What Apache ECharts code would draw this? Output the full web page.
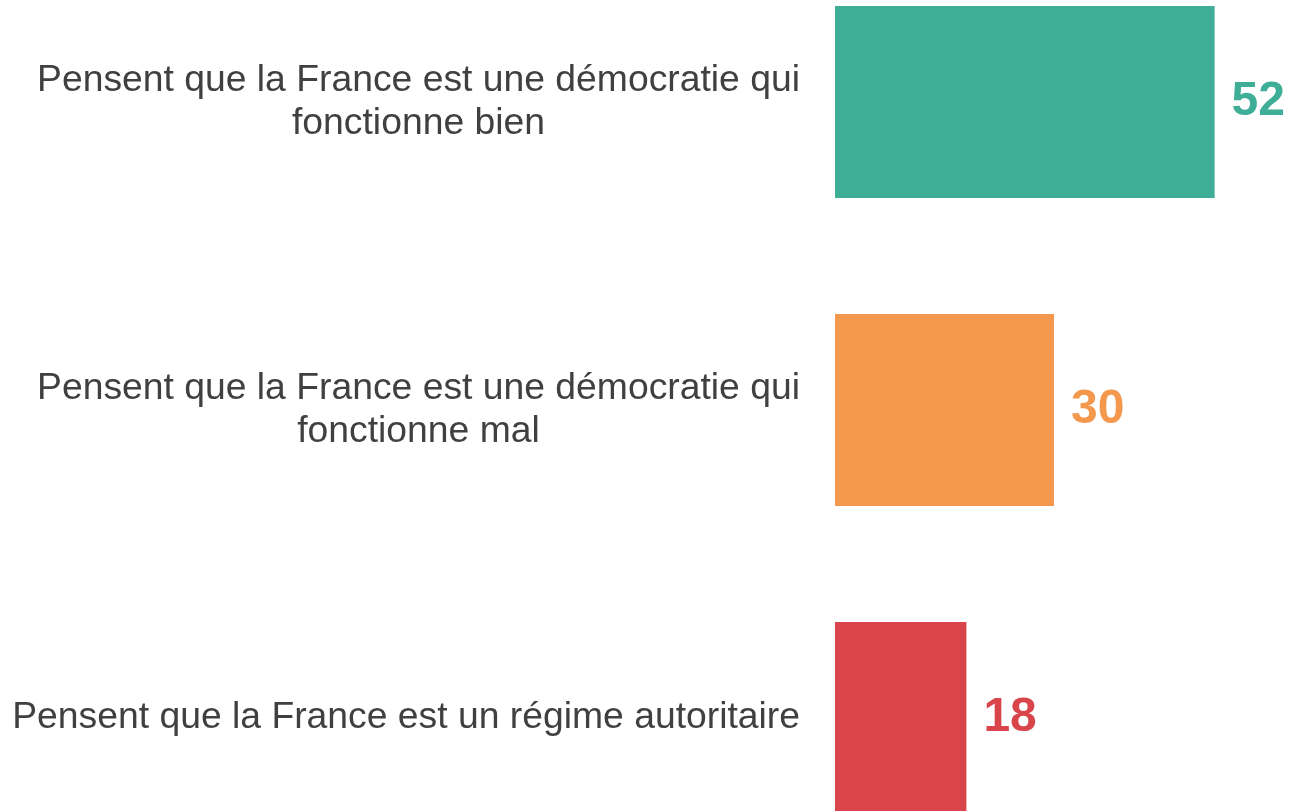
<!DOCTYPE html>
<html>
<head>
<meta charset="utf-8">
<script src="https://cdn.jsdelivr.net/npm/echarts@6/dist/echarts.min.js"></script>
<style>
  html, body { margin: 0; padding: 0; background: #fff; }
  #chart { width: 1294px; height: 811px; }
</style>
</head>
<body>
<div id="chart"></div>
<script>
// données
const categories = [
  'Pensent que la France est une démocratie qui\nfonctionne bien',
  'Pensent que la France est une démocratie qui\nfonctionne mal',
  'Pensent que la France est un régime autoritaire'
]
const values = [52, 30, 18]
const barColors = ['#3eae96', '#f4984d', '#d9454b']

const myChart = echarts.init(document.getElementById('chart'))

const options = {
  animation: false,
  grid: {
    left: 835,
    width: 438,
    top: -52,
    height: 924,
    outerBoundsMode: 'none'
  },
  xAxis: {
    type: 'value',
    min: 0,
    max: 60,
    show: false
  },
  yAxis: {
    type: 'category',
    data: categories,
    inverse: true,
    axisLine: { show: false },
    axisTick: { show: false },
    splitLine: { show: false },
    axisLabel: {
      margin: 35,
      align: 'right',
      formatter: (v) => v.split('\n').map(s => '{c|' + s + '}').join('\n'),
      rich: {
        c: {
          align: 'center',
          fontFamily: 'Liberation Sans, Arial, sans-serif',
          fontSize: 37.3,
          lineHeight: 43,
          color: '#404040'
        }
      }
    }
  },
  series: [
    {
      type: 'bar',
      barWidth: 192,
      data: values.map((v, i) => ({
        value: v,
        itemStyle: { color: barColors[i] },
        label: { color: barColors[i] }
      })),
      label: {
        show: true,
        position: 'right',
        distance: 17,
        fontFamily: 'Liberation Sans, Arial, sans-serif',
        fontSize: 48,
        fontWeight: 'bold'
      }
    }
  ]
}

myChart.setOption(options)
</script>
</body>
</html>
